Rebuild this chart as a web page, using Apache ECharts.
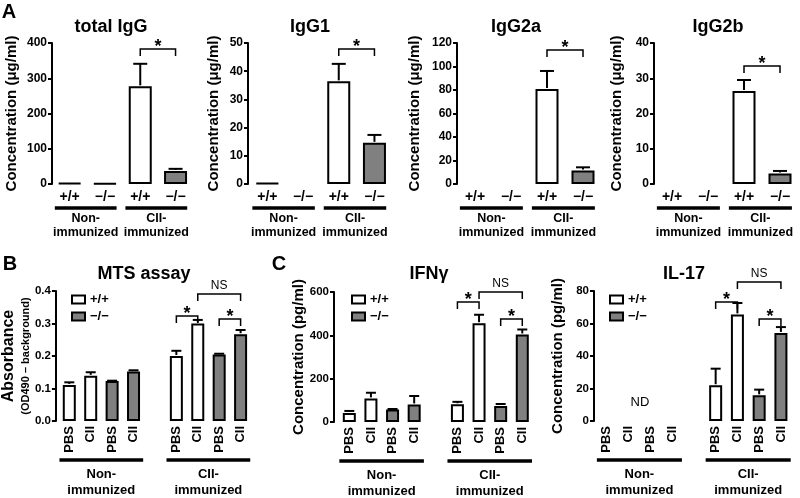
<!DOCTYPE html>
<html><head><meta charset="utf-8">
<script src="https://cdn.jsdelivr.net/npm/echarts@6/dist/echarts.min.js"></script>
<style>html,body{margin:0;padding:0;background:#fff}#c{width:800px;height:498px}</style>
</head><body><div id="c"></div>
<script>
const FONT = '"Liberation Sans", Arial, Helvetica, sans-serif';

// ---------- Panel A data ----------
const genotypeTicks = ['+/+', '−/−', '+/+', '−/−'];
const genotypeOfA   = ['wt', 'ko', 'wt', 'ko'];
const groupNon = 'Non-\nimmunized';
const groupCII = 'CII-\nimmunized';

const totalIgG    = [3, 2, 277, 37];
const totalIgGErr = [null, null, 341, 43];
const igG1        = [0.3, null, 36.4, 14.6];
const igG1Err     = [null, null, 42.6, 17.4];
const igG2a       = [null, null, 80.8, 11.5];
const igG2aErr    = [null, null, 96.2, 14.2];
const igG2b       = [null, null, 26.4, 3.0];
const igG2bErr    = [null, null, 29.5, 3.7];

// ---------- Panels B / C data ----------
const treatTicks   = ['PBS', 'CII', 'PBS', 'CII', '', 'PBS', 'CII', 'PBS', 'CII'];
const genotypeOfBC = ['wt', 'wt', 'ko', 'ko', null, 'wt', 'wt', 'ko', 'ko'];

const mts      = [0.111, 0.139, 0.123, 0.152, null, 0.200, 0.300, 0.205, 0.267];
const mtsErr   = [0.119, 0.150, 0.124, 0.156, null, 0.216, 0.311, 0.207, 0.280];
const ifng     = [42, 109, 58, 81, null, 82, 456, 74, 404];
const ifngErr  = [51, 135, 60, 120, null, 93, 495, 83, 427];
const il17     = [null, null, null, null, null, 22, 65.6, 15.8, 54.2];
const il17Err  = [null, null, null, null, null, 32.2, 72.6, 19.3, 57.8];

// significance brackets: [fromIndex, toIndex, yValue, label]
const bracketsTotal = [[2, 3, 383, '*']];
const bracketsG1    = [[2, 3, 47.9, '*']];
const bracketsG2a   = [[2, 3, 114, '*']];
const bracketsG2b   = [[2, 3, 33.5, '*']];
const bracketsMts   = [[5, 6, 0.323, '*'], [6, 8, 0.391, 'NS'], [7, 8, 0.314, '*']];
const bracketsIfng  = [[5, 6, 554, '*'], [6, 8, 600, 'NS'], [7, 8, 475, '*']];
const bracketsIl17  = [[5, 6, 73.2, '*'], [6, 8, 85.5, 'NS'], [7, 8, 62.8, '*']];

const groupsA  = [[0, 1, groupNon], [2, 3, groupCII]];
const groupsBC = [[0, 3, groupNon], [5, 8, groupCII]];

const legendNames = ['+/+', '−/−'];

// ---------- layout ----------
const panels = [
  { title: 'total IgG', tx: 111, ty: 27, grid: {left: 52, top: 43, width: 141.2, height: 141},
    cats: genotypeTicks, geno: genotypeOfA, vals: totalIgG, errs: totalIgGErr, max: 400, interval: 100,
    name: 'Concentration (μg/ml)', nameGap: 33, br: bracketsTotal, groups: groupsA, kind: 'A', off: 0 },
  { title: 'IgG1', tx: 310, ty: 27, grid: {left: 249.5, top: 43, width: 142.8, height: 141},
    cats: genotypeTicks, geno: genotypeOfA, vals: igG1, errs: igG1Err, max: 50, interval: 10,
    name: 'Concentration (μg/ml)', nameGap: 27, br: bracketsG1, groups: groupsA, kind: 'A', off: 1.5 },
  { title: 'IgG2a', tx: 516, ty: 27, grid: {left: 457, top: 43, width: 144, height: 141},
    cats: genotypeTicks, geno: genotypeOfA, vals: igG2a, errs: igG2aErr, max: 120, interval: 20,
    name: 'Concentration (μg/ml)', nameGap: 35, br: bracketsG2a, groups: groupsA, kind: 'A', off: 0 },
  { title: 'IgG2b', tx: 718, ty: 27, grid: {left: 654, top: 43, width: 144, height: 141},
    cats: genotypeTicks, geno: genotypeOfA, vals: igG2b, errs: igG2bErr, max: 40, interval: 10,
    name: 'Concentration (μg/ml)', nameGap: 30, br: bracketsG2b, groups: groupsA, kind: 'A', off: 0 },
  { title: 'MTS assay', tx: 144, ty: 274, grid: {left: 56.7, top: 291, width: 194.6, height: 130},
    cats: treatTicks, geno: genotypeOfBC, vals: mts, errs: mtsErr, max: 0.4, interval: 0.1,
    name: '{a|Absorbance}\n{b|(OD490 – background)}', nameGap: 17, br: bracketsMts, groups: groupsBC, kind: 'B', off: 2.7,
    legend: {left: 71, top: 293}, fmt: v => v.toFixed(1) },
  { title: 'IFNγ', tx: 429, ty: 274, grid: {left: 338.5, top: 292, width: 194.6, height: 130},
    cats: treatTicks, geno: genotypeOfBC, vals: ifng, errs: ifngErr, max: 600, interval: 200,
    name: 'Concentration (pg/ml)', nameGap: 28, br: bracketsIfng, groups: groupsBC, kind: 'B', off: 4.5,
    legend: {left: 351, top: 293} },
  { title: 'IL-17', tx: 684, ty: 274, grid: {left: 596, top: 291, width: 195.8, height: 130},
    cats: treatTicks, geno: genotypeOfBC, vals: il17, errs: il17Err, max: 80, interval: 20,
    name: 'Concentration (pg/ml)', nameGap: 29, br: bracketsIl17, groups: groupsBC, kind: 'B', off: 2,
    legend: {left: 609, top: 293} }
];

const BLACK = '#000';
const GRAY = '#808080';

function txt(style) {
  const s = Object.assign({fill: BLACK, fontFamily: FONT}, style);
  if (s.align) s.textAlign = s.align;
  if (s.verticalAlign) s.textVerticalAlign = s.verticalAlign;
  return s;
}

const grids = [], xAxes = [], yAxes = [], series = [], legends = [];
panels.forEach((p, i) => {
  const isA = p.kind === 'A';
  grids.push(p.grid);
  xAxes.push({
    type: 'category', gridIndex: i, data: p.cats,
    axisLine: {show: false}, axisTick: {show: false}, splitLine: {show: false},
    axisLabel: isA
      ? {interval: 0, margin: 6, fontSize: 14, fontWeight: 'bold', color: BLACK, fontFamily: FONT}
      : {interval: 0, rotate: 90, margin: 5, fontSize: 13, fontWeight: 'bold', color: BLACK, fontFamily: FONT}
  });
  const nameStyle = {fontSize: 15, fontWeight: 'bold', color: BLACK, fontFamily: FONT};
  if (p.kind === 'B' && p.fmt) {
    nameStyle.rich = {
      a: {fontSize: 16, fontWeight: 'bold', color: BLACK, fontFamily: FONT, lineHeight: 20},
      b: {fontSize: 11, fontWeight: 'bold', color: BLACK, fontFamily: FONT, lineHeight: 13}
    };
  }
  yAxes.push({
    type: 'value', gridIndex: i, min: 0, max: p.max, interval: p.interval, offset: p.off,
    name: p.name, nameLocation: 'middle', nameRotate: 90, nameGap: p.nameGap, nameTextStyle: nameStyle,
    axisLine: {show: true, lineStyle: {color: BLACK, width: 2}},
    axisTick: {show: true, length: 4, lineStyle: {color: BLACK, width: 2}},
    splitLine: {show: false},
    axisLabel: {margin: 5, fontSize: isA ? 12 : 11.5, fontWeight: 'bold', color: BLACK, fontFamily: FONT,
      formatter: p.fmt || (v => String(v))}
  });
  const bw = isA ? 23 : 13;
  ['wt', 'ko'].forEach((g, k) => {
    series.push({
      type: 'bar', name: legendNames[k], xAxisIndex: i, yAxisIndex: i,
      barWidth: bw, barGap: '-100%', silent: true,
      itemStyle: {color: g === 'wt' ? '#fff' : GRAY, borderColor: BLACK, borderWidth: 2},
      data: p.vals.map((v, j) => (p.geno[j] === g ? v : null))
    });
  });
  // error bars (upper only)
  const capHalf = isA ? 7 : 5;
  series.push({
    type: 'custom', xAxisIndex: i, yAxisIndex: i, silent: true, clip: false, z: 5,
    encode: {x: 0, y: [1, 2]},
    data: p.vals.map((v, j) => (v != null && p.errs[j] != null ? [j, v, p.errs[j]] : null)).filter(Boolean),
    renderItem: (params, api) => {
      const a = api.coord([api.value(0), api.value(1)]);
      const b = api.coord([api.value(0), api.value(2)]);
      return {type: 'group', children: [
        {type: 'line', shape: {x1: a[0], y1: a[1] - 1, x2: b[0], y2: b[1]}, style: {stroke: BLACK, lineWidth: 2}},
        {type: 'line', shape: {x1: b[0] - capHalf, y1: b[1], x2: b[0] + capHalf, y2: b[1]}, style: {stroke: BLACK, lineWidth: 2}}
      ]};
    }
  });
  // significance brackets
  const brs = p.br;
  series.push({
    type: 'custom', xAxisIndex: i, yAxisIndex: i, silent: true, clip: false, z: 6,
    encode: {x: [0, 1], y: 2},
    data: brs.map(b => [b[0], b[1], b[2]]),
    renderItem: (params, api) => {
      const b = brs[params.dataIndex];
      const pa = api.coord([b[0], b[2]]);
      const pb = api.coord([b[1], b[2]]);
      const y = pa[1];
      const drop = 7;
      const star = b[3] === '*';
      return {type: 'group', children: [
        {type: 'polyline', shape: {points: [[pa[0], y + drop], [pa[0], y], [pb[0], y], [pb[0], y + drop]]},
          style: {stroke: BLACK, lineWidth: 1.5, fill: null}},
        {type: 'text', style: txt({text: b[3], x: (pa[0] + pb[0]) / 2, y: star ? y - 2 : y - 8,
          align: 'center', verticalAlign: 'middle',
          fontSize: star ? 18 : 12, fontWeight: star ? 'bold' : 'normal'})}
      ]};
    }
  });
  // group underlines and labels
  const grs = p.groups;
  const cfg = isA ? {l: 0.42, r: 0.33, lineOff: 24, textOff: 28, lh: 14, fs: 12.5}
                  : {l: 0.46, r: 0.45, lineOff: 39, textOff: 45, lh: 16, fs: 13};
  series.push({
    type: 'custom', xAxisIndex: i, yAxisIndex: i, silent: true, clip: false, z: 6,
    encode: {x: [0, 1], y: 2},
    data: grs.map(g => [g[0], g[1], 0]),
    renderItem: (params, api) => {
      const g = grs[params.dataIndex];
      const p1 = api.coord([g[0], 0]);
      const p2 = api.coord([g[1], 0]);
      const band = api.size([1, 0])[0];
      const x1 = p1[0] - band * cfg.l, x2 = p2[0] + band * cfg.r;
      const y0 = p1[1];
      return {type: 'group', children: [
        {type: 'line', shape: {x1: x1, y1: y0 + cfg.lineOff, x2: x2, y2: y0 + cfg.lineOff},
          style: {stroke: BLACK, lineWidth: 3.5}},
        {type: 'text', style: txt({text: g[2], x: (x1 + x2) / 2, y: y0 + cfg.textOff,
          align: 'center', verticalAlign: 'top', fontSize: cfg.fs, fontWeight: 'bold', lineHeight: cfg.lh})}
      ]};
    }
  });
  if (p.legend) {
    legends.push({
      data: legendNames, orient: 'vertical', left: p.legend.left, top: p.legend.top, padding: 0,
      itemWidth: 13, itemHeight: 8, itemGap: 4, icon: 'rect', selectedMode: false,
      itemStyle: {borderColor: BLACK, borderWidth: 2},
      textStyle: {fontSize: 13, fontWeight: 'bold', color: BLACK, fontFamily: FONT, lineHeight: 13}
    });
  }
});

const graphics = panels.map(p => ({
  type: 'text', x: p.tx, y: p.ty, silent: true,
  style: txt({text: p.title, align: 'center', verticalAlign: 'middle', fontSize: 18, fontWeight: 'bold'})
}));
graphics.push(
  {type: 'text', x: 9, y: 12, silent: true, style: txt({text: 'A', align: 'center', verticalAlign: 'middle', fontSize: 20, fontWeight: 'bold'})},
  {type: 'text', x: 10, y: 264, silent: true, style: txt({text: 'B', align: 'center', verticalAlign: 'middle', fontSize: 20, fontWeight: 'bold'})},
  {type: 'text', x: 279, y: 264, silent: true, style: txt({text: 'C', align: 'center', verticalAlign: 'middle', fontSize: 20, fontWeight: 'bold'})},
  {type: 'text', x: 640, y: 402, silent: true, style: txt({text: 'ND', align: 'center', verticalAlign: 'middle', fontSize: 13})}
);

const chart = echarts.init(document.getElementById('c'), null, {renderer: 'canvas'});
chart.setOption({
  animation: false,
  backgroundColor: '#fff',
  textStyle: {fontFamily: FONT},
  grid: grids, xAxis: xAxes, yAxis: yAxes, legend: legends, series: series, graphic: graphics
});
</script></body></html>
